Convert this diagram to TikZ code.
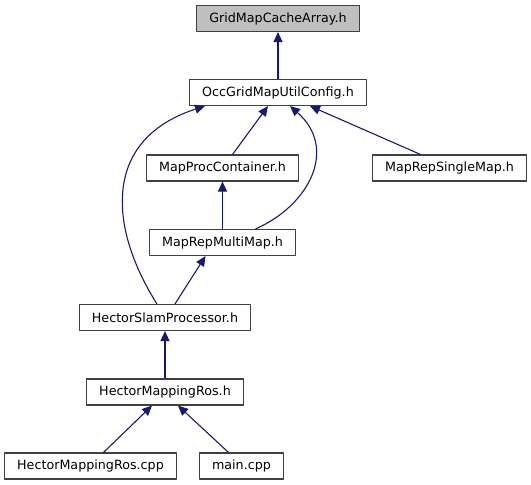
\documentclass[tikz,border=0pt]{standalone}
\usepackage{fontspec}
\setmainfont{DejaVu Sans}
\usetikzlibrary{arrows.meta}
\definecolor{edgeblue}{HTML}{191970}
\definecolor{boxline}{HTML}{404040}
\definecolor{boxgray}{HTML}{BFBFBF}
\tikzset{
  filebox/.style={draw=boxline, line width=1.1pt, fill=white, rectangle,
    inner xsep=12.5pt, minimum height=26pt, font=\fontsize{12.7}{14}\selectfont},
  incl/.style={draw=edgeblue, line width=1.1pt,
    -{Triangle[length=10pt, width=9pt]}}
}
\begin{document}
\begin{tikzpicture}[x=1pt, y=-1pt, line join=round]
	% Fix the page size
	\useasboundingbox (0,0) rectangle (531,485);
	
	% File boxes
	\node[filebox, fill=boxgray] (grid) at (278,18.5) {GridMapCacheArray.h};
	\node[filebox] (occ) at (278,92.5) {OccGridMapUtilConfig.h};
	\node[filebox] (procc) at (222.5,168) {MapProcContainer.h};
	\node[filebox] (single) at (449.5,168) {MapRepSingleMap.h};
	\node[filebox] (multi) at (222.5,242.5) {MapRepMultiMap.h};
	\node[filebox] (hslam) at (165,317.5) {HectorSlamProcessor.h};
	\node[filebox] (hmr) at (165,392) {HectorMappingRos.h};
	\node[filebox] (hmrcpp) at (90.5,466) {HectorMappingRos.cpp};
	\node[filebox] (maincpp) at (241.5,466) {main.cpp};
	
	% Include edges, arrow points at the included file
	\draw[incl] (occ) -- (grid);
	\draw[incl] ([xshift=10pt]procc.north) -- ([xshift=-10pt]occ.south);
	\draw[incl] ([xshift=-29pt]single.north) -- ([xshift=32pt]occ.south);
	\draw[incl] ([xshift=33pt]multi.north)
		.. controls (310,205) and (338,148) .. ([xshift=12pt]occ.south);
	\draw[incl] ([xshift=-8pt]hslam.north)
		.. controls (110,230) and (100,140) .. ([xshift=-73pt]occ.south);
	\draw[incl] (multi) -- (procc);
	\draw[incl] ([xshift=10pt]hslam.north) -- ([xshift=-17pt]multi.south);
	\draw[incl] (hmr) -- (hslam);
	\draw[incl] ([xshift=13pt]hmrcpp.north) -- ([xshift=-13pt]hmr.south);
	\draw[incl] ([xshift=-13pt]maincpp.north) -- ([xshift=13pt]hmr.south);
\end{tikzpicture}
\end{document}
